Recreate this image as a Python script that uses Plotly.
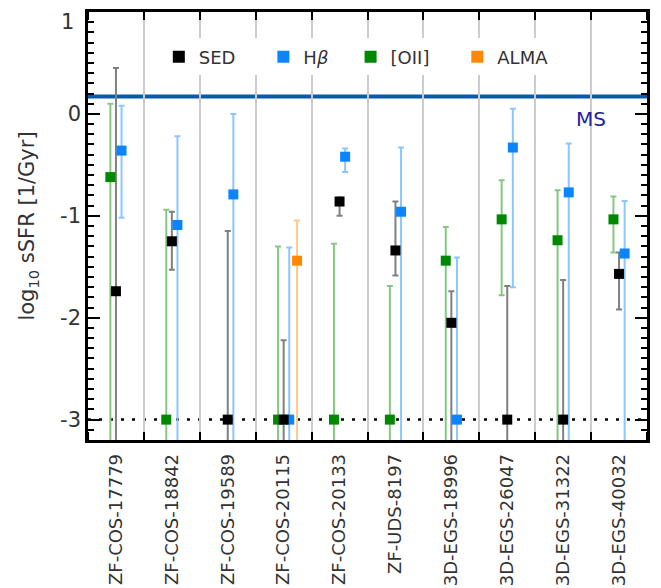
import plotly.graph_objects as go

categories = ["ZF-COS-17779", "ZF-COS-18842", "ZF-COS-19589", "ZF-COS-20115", "ZF-COS-20133",
              "ZF-UDS-8197", "3D-EGS-18996", "3D-EGS-26047", "3D-EGS-31322", "3D-EGS-40032"]

# log10 sSFR values and error-bar bounds (None = not measured; -6 = extends below the axis)
sed_val = [-1.74, -1.25, -3.0, -3.0, -0.86, -1.34, -2.05, -3.0, -3.0, -1.57]
sed_hi = [0.45, -0.96, -1.15, -2.22, -0.82, -0.86, -1.74, -1.69, -1.63, -1.36]
sed_lo = [-6, -1.53, -6, -6, -1.0, -1.585, -6, -6, -6, -1.92]

hb_val = [-0.36, -1.09, -0.79, -3.0, -0.42, -0.96, -3.0, -0.33, -0.77, -1.37]
hb_hi = [0.08, -0.22, 0.0, -1.31, -0.34, -0.33, -1.41, 0.05, -0.29, -0.855]
hb_lo = [-1.02, -6, -6, -6, -0.57, -6, -6, -1.70, -6, -6]

oii_val = [-0.62, -3.0, None, -3.0, -3.0, -3.0, -1.44, -1.035, -1.24, -1.035]
oii_hi = [0.10, -0.94, None, -1.30, -1.275, -1.69, -1.11, -0.65, -0.75, -0.81]
oii_lo = [-6, -6, None, -6, -6, -6, -6, -1.78, -6, -1.36]

alma_val = [None, None, None, -1.44, None, None, None, None, None, None]
alma_hi = [None, None, None, -1.045, None, None, None, None, None, None]
alma_lo = [None, None, None, -6, None, None, None, None, None, None]

y_tickvals = [-3, -2, -1, 0, 1]
y_ticktext = ["-3", "-2", "-1", "0", ""]
y_top_label = "1"
y_top_value = 1

ms_value = 0.17
limit_value = -3.0

series = [
    # name, vals, hi, lo, offset, marker colour, errorbar colour, legendrank, legend padding
    ("[OII]", oii_val, oii_hi, oii_lo, -0.1, "#008800", "#84c884", 3, 4),
    ("H<i>β</i>", hb_val, hb_hi, hb_lo, 0.1, "#0a84ff", "#8cc6ff", 2, 3),
    ("SED", sed_val, sed_hi, sed_lo, 0.0, "#000000", "#808080", 1, 4),
    ("ALMA", alma_val, alma_hi, alma_lo, 0.24, "#ff8800", "#ffc88a", 4, 0),
]

fig = go.Figure()

# error bars first
for name, vals, hi, lo, off, mc, ec, rank, pad in series:
    xs, ys, ep, em = [], [], [], []
    for i, v in enumerate(vals):
        if v is None:
            continue
        xs.append(i + 0.5 + off)
        ys.append(v)
        ep.append(hi[i] - v)
        em.append(v - lo[i])
    fig.add_trace(go.Scatter(
        x=xs, y=ys, mode="markers", showlegend=False, hoverinfo="skip",
        marker=dict(size=9, color="rgba(0,0,0,0)"),
        error_y=dict(type="data", array=ep, arrayminus=em, symmetric=False,
                     color=ec, thickness=2, width=3),
    ))

# markers on top
for name, vals, hi, lo, off, mc, ec, rank, pad in series:
    xs, ys = [], []
    for i, v in enumerate(vals):
        if v is None:
            continue
        xs.append(i + 0.5 + off)
        ys.append(v)
    label = name + "\u00a0" * pad
    fig.add_trace(go.Scatter(
        x=xs, y=ys, mode="markers", name=label, legendrank=rank,
        marker=dict(symbol="square", size=10, color=mc, line=dict(width=0)),
    ))

fig.add_shape(type="line", xref="paper", x0=0, x1=1, yref="y", y0=limit_value, y1=limit_value,
              line=dict(color="black", width=2.5, dash="3px,8px"), layer="between")
fig.add_shape(type="line", xref="paper", x0=0, x1=1, yref="y", y0=ms_value, y1=ms_value,
              line=dict(color="#0a5aab", width=4), layer="between")
fig.add_annotation(x=9.0, y=ms_value, xref="x", yref="y", text="MS", showarrow=False,
                   yanchor="top", yshift=-8, font=dict(size=20, color="#22229a"))
# top y tick label (drawn slightly lower, as in the original)
fig.add_annotation(x=0, y=y_top_value, xref="paper", yref="y", text=y_top_label, showarrow=False,
                   xanchor="right", yanchor="middle", xshift=-12, yshift=-10,
                   font=dict(size=21, color="#333333"))

fig.update_layout(
    width=653, height=580,
    margin=dict(l=80, r=14, t=4, b=148),
    plot_bgcolor="white", paper_bgcolor="white",
    font=dict(family="DejaVu Sans", size=18, color="#333333"),
    showlegend=True,
    legend=dict(orientation="h", x=0.48, xanchor="center", y=0.895, yanchor="middle",
                bgcolor="white", font=dict(size=18, color="#333333"), itemsizing="constant"),
    xaxis=dict(range=[0, 10], tickmode="array", tickvals=[i + 0.5 for i in range(len(categories))],
               ticktext=categories, tickangle=-90, ticks="", showgrid=False, zeroline=False,
               showline=True, linecolor="black", linewidth=2.5, mirror="ticks", automargin=False,
               tickfont=dict(size=18, color="#333333"), ticklabelstandoff=4,
               ticklabeloverflow="allow",
               minor=dict(tickmode="linear", tick0=0, dtick=1, ticks="inside", ticklen=8,
                          tickwidth=2, tickcolor="black", showgrid=True,
                          gridcolor="#cccccc", gridwidth=2)),
    yaxis=dict(range=[-3.2, 1.0], tickmode="array", tickvals=y_tickvals, ticktext=y_ticktext,
               ticks="inside",
               ticklen=12, tickwidth=2, tickcolor="black", showgrid=False, zeroline=False,
               showline=True, linecolor="black", linewidth=2.5, mirror="ticks", automargin=False,
               tickfont=dict(size=21, color="#333333"), ticklabeloverflow="allow",
               title=dict(text="log<sub>10</sub> sSFR [1/Gyr]", font=dict(size=21, color="#333333"),
                          standoff=20),
               minor=dict(tickmode="linear", tick0=0, dtick=0.1, ticks="inside", ticklen=6,
                          tickwidth=2, tickcolor="black", showgrid=False)),
)

fig.write_html("out.html")
